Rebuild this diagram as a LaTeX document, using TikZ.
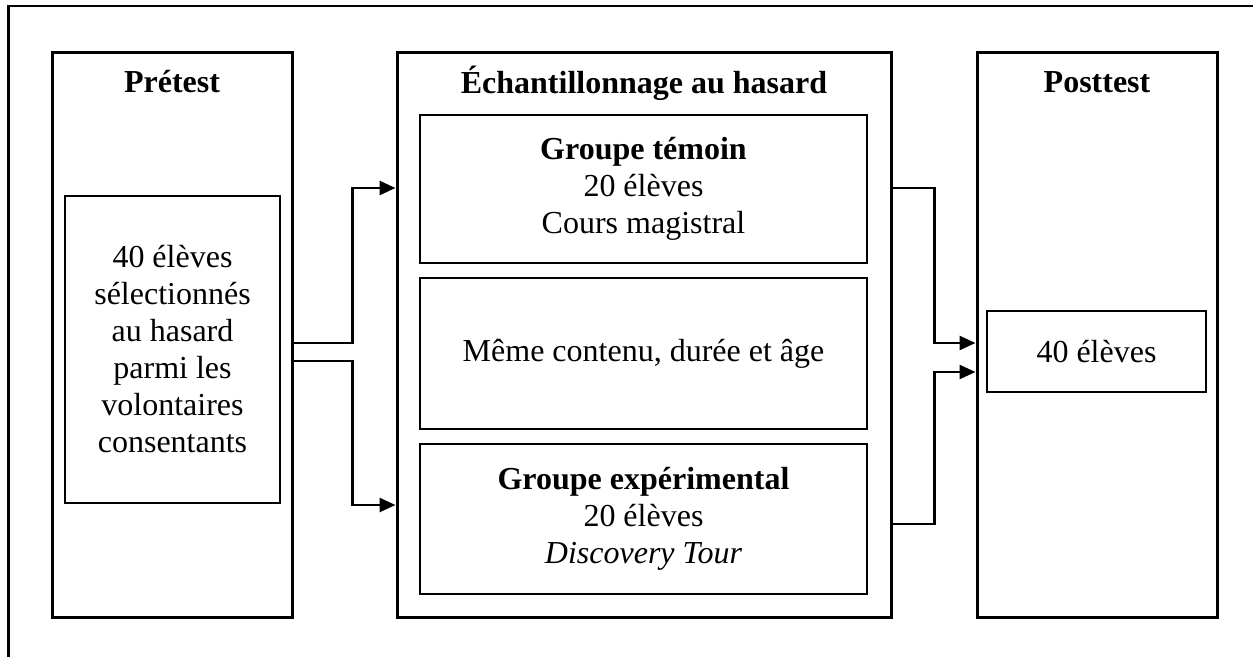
\documentclass[tikz,border=0pt]{standalone}
\usepackage{fontspec}
\setmainfont{Liberation Serif}
\usepackage{tikz}
\usetikzlibrary{positioning,calc,arrows.meta}

\begin{document}
\begin{tikzpicture}[x=1pt,y=-1pt, font=\fontsize{32}{37}\selectfont, line cap=butt, line join=miter]
	% ===== cadre =====
	\useasboundingbox (0,0) rectangle (1253,657);
	\draw[line width=2.4pt] (8.5,657) -- (8.5,6) -- (1253,6);
	
	% ===== styles =====
	\tikzset{bigbox/.style={draw, line width=3pt, minimum width=240pt, minimum height=565pt, inner sep=0pt},
		inbox/.style={draw, line width=2.6pt, align=center, inner sep=0pt},
		titre/.style={anchor=base, font=\fontsize{32}{37}\selectfont\bfseries},
		conn/.style={line width=2.6pt, -{Triangle[length=16pt,width=14pt]}}}
	
	% ===== colonnes =====
	\node[bigbox] (pre) at (172,334.5) {};
	\node[bigbox, minimum width=494pt] (ech) at (644,334.5) {};
	\node[bigbox] (post) at (1097,334.5) {};
	
	\node[titre] (tpre) at (172,92) {Prétest};
	\node[titre] (tech) at (644,93) {Échantillonnage au hasard};
	\node[titre] (tpost) at (1097,92) {Posttest};
	
	% ===== boites internes =====
	\node[inbox, minimum width=215pt, minimum height=307pt] (sel) at (172.5,349.5)
		{40 élèves\\sélectionnés\\au hasard\\parmi les\\volontaires\\consentants};
	\node[inbox, minimum width=447pt, minimum height=148pt] (tem) at (643.5,189)
		{\textbf{Groupe témoin}\\20 élèves\\Cours magistral};
	\node[inbox, minimum width=447pt, minimum height=151pt] (meme) at (643.5,353.5)
		{Même contenu, durée et âge};
	\node[inbox, minimum width=447pt, minimum height=150pt] (exp) at (643.5,519)
		{\textbf{Groupe expérimental}\\20 élèves\\\textit{Discovery Tour}};
	\node[inbox, minimum width=219pt, minimum height=81pt] (p40) at (1096.5,351.5) {40 élèves};
	
	% ===== fleches =====
	\draw[conn] ([yshift=-8.5pt]pre.east) -- ++(59,0) |- ([yshift=1pt]tem.west -| ech.west);
	\draw[conn] ([yshift=-26.5pt]pre.east) -- ++(59,0) |- ([yshift=14pt]exp.west -| ech.west);
	\draw[conn] ([yshift=1pt]tem.east -| ech.east) -- ++(42,0) |- ([yshift=-8.5pt]post.west);
	\draw[conn] ([yshift=-5pt]exp.east -| ech.east) -- ++(42,0) |- ([yshift=-37.5pt]post.west);
\end{tikzpicture}
\end{document}
